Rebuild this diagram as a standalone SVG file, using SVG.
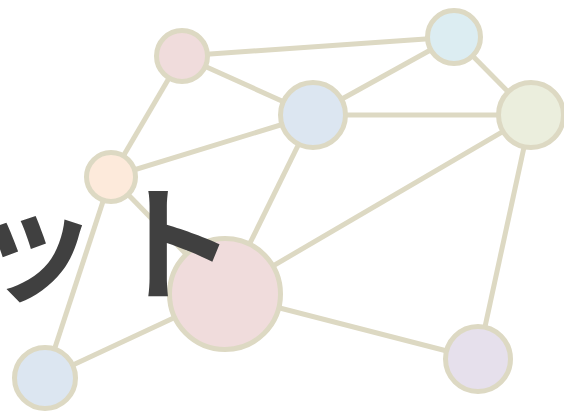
<svg xmlns="http://www.w3.org/2000/svg" width="564" height="412" viewBox="0 0 564 412">
<style>
.edge{stroke:#ddd9c3;stroke-width:5;fill:none}
.node{stroke:#ddd9c3;stroke-width:5}
.label{font-family:"Noto Sans CJK JP",sans-serif;font-weight:bold;font-size:126px;fill:#404040}
</style>
<rect width="564" height="412" fill="#ffffff"/>
<g id="connectors">
<line class="edge" x1="182" y1="56" x2="454" y2="37"/>
<line class="edge" x1="182" y1="56" x2="313" y2="115"/>
<line class="edge" x1="182" y1="56" x2="111" y2="177"/>
<line class="edge" x1="313" y1="115" x2="454" y2="37"/>
<line class="edge" x1="313" y1="115" x2="531" y2="115"/>
<line class="edge" x1="313" y1="115" x2="111" y2="177"/>
<line class="edge" x1="313" y1="115" x2="225" y2="294"/>
<line class="edge" x1="454" y1="37" x2="531" y2="115"/>
<line class="edge" x1="531" y1="115" x2="225" y2="294"/>
<line class="edge" x1="531" y1="115" x2="478" y2="359"/>
<line class="edge" x1="111" y1="177" x2="225" y2="294"/>
<line class="edge" x1="111" y1="177" x2="45" y2="378"/>
<line class="edge" x1="225" y1="294" x2="45" y2="378"/>
<line class="edge" x1="225" y1="294" x2="478" y2="359"/>
</g>
<g id="n1"><circle class="node" cx="182" cy="56" r="25.5" fill="#f0dcdc"/></g>
<g id="n2"><circle class="node" cx="313" cy="115" r="32.5" fill="#dce6f1"/></g>
<g id="n3"><circle class="node" cx="454" cy="37" r="26.5" fill="#dcedf2"/></g>
<g id="n4"><circle class="node" cx="531" cy="115" r="32.5" fill="#ebeedd"/></g>
<g id="n5"><circle class="node" cx="111" cy="177" r="24.5" fill="#fdeadb"/></g>
<g id="n6"><circle class="node" cx="225" cy="294" r="55.5" fill="#f0dcdc"/></g>
<g id="n7"><circle class="node" cx="45" cy="378" r="30.5" fill="#dce6f1"/></g>
<g id="n8"><circle class="node" cx="478" cy="359" r="32.5" fill="#e6e0ec"/></g>
<text class="label" x="-28" y="291" letter-spacing="12">ット</text>
</svg>
